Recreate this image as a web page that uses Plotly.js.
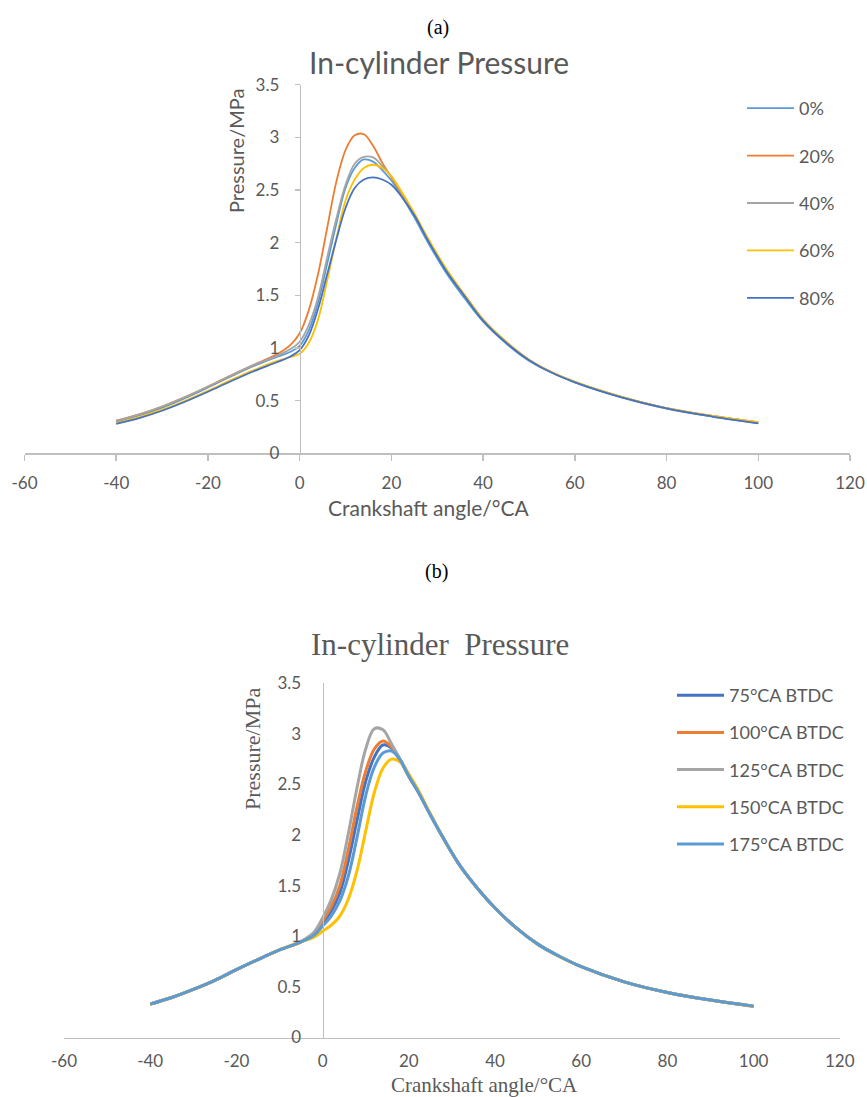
<!DOCTYPE html>
<html>
<head>
<meta charset="utf-8">
<script src="https://cdn.plot.ly/plotly-3.0.1.min.js"></script>
<style>html,body{margin:0;padding:0;background:#fff;}#chart{width:867px;height:1097px;}</style>
</head>
<body>
<div id="chart"></div>
<script>
// ---------- Data ----------
const crankAngle = [-40,-35,-30,-25,-20,-15,-10,-5,-2,0,2,4,6,8,10,12,14,16,18,20,22,25,28,32,36,40,45,50,55,60,70,80,90,100];

// (a) series
const namesA = ['0%','20%','40%','60%','80%'];
const pA_0  = [0.30,0.36,0.435,0.525,0.625,0.73,0.83,0.915,0.965,1.02,1.17,1.43,1.80,2.18,2.52,2.71,2.79,2.77,2.69,2.59,2.46,2.24,2.00,1.71,1.47,1.25,1.045,0.88,0.765,0.675,0.535,0.425,0.35,0.288];
const pA_20 = [0.31,0.37,0.445,0.535,0.635,0.74,0.84,0.94,1.03,1.14,1.36,1.70,2.14,2.58,2.88,3.02,3.03,2.92,2.76,2.62,2.48,2.27,2.03,1.74,1.50,1.27,1.06,0.89,0.77,0.68,0.54,0.43,0.355,0.295];
const pA_40 = [0.31,0.37,0.445,0.535,0.635,0.74,0.84,0.925,0.99,1.06,1.22,1.48,1.86,2.23,2.55,2.75,2.815,2.81,2.73,2.63,2.49,2.27,2.03,1.74,1.50,1.27,1.06,0.89,0.77,0.68,0.54,0.43,0.355,0.295];
const pA_60 = [0.288,0.345,0.415,0.50,0.595,0.695,0.79,0.875,0.915,0.945,1.05,1.27,1.64,2.04,2.40,2.60,2.71,2.74,2.71,2.63,2.50,2.28,2.04,1.75,1.50,1.27,1.06,0.89,0.77,0.68,0.54,0.43,0.355,0.295];
const pA_80 = [0.28,0.335,0.405,0.49,0.585,0.685,0.78,0.865,0.92,0.98,1.12,1.37,1.70,2.03,2.33,2.52,2.60,2.62,2.60,2.55,2.45,2.26,2.02,1.73,1.49,1.26,1.05,0.885,0.765,0.675,0.535,0.428,0.35,0.285];
const colorsA = ['#5B9BD5','#ED7D31','#A5A5A5','#FFC000','#4472C4'];

// (b) series
const namesB = ['75°CA BTDC','100°CA BTDC','125°CA BTDC','150°CA BTDC','175°CA BTDC'];
const pB_75  = [0.33,0.395,0.475,0.565,0.67,0.77,0.865,0.945,1.02,1.13,1.25,1.43,1.75,2.15,2.53,2.77,2.89,2.86,2.74,2.58,2.44,2.20,1.97,1.69,1.47,1.28,1.08,0.92,0.80,0.70,0.55,0.445,0.37,0.31];
const pB_100 = [0.33,0.395,0.475,0.565,0.67,0.77,0.865,0.945,1.03,1.15,1.29,1.50,1.86,2.28,2.63,2.85,2.93,2.87,2.74,2.58,2.44,2.20,1.97,1.69,1.47,1.28,1.08,0.92,0.80,0.70,0.55,0.445,0.37,0.305];
const pB_125 = [0.33,0.395,0.475,0.565,0.67,0.77,0.865,0.95,1.04,1.18,1.36,1.62,2.02,2.47,2.85,3.05,3.04,2.90,2.75,2.60,2.45,2.20,1.97,1.69,1.47,1.28,1.08,0.92,0.80,0.70,0.55,0.445,0.37,0.31];
const pB_150 = [0.33,0.395,0.475,0.565,0.67,0.77,0.865,0.945,0.99,1.05,1.11,1.20,1.37,1.65,2.04,2.42,2.66,2.75,2.72,2.60,2.46,2.21,1.97,1.69,1.47,1.28,1.08,0.92,0.80,0.70,0.55,0.445,0.37,0.31];
const pB_175 = [0.33,0.395,0.475,0.565,0.67,0.77,0.865,0.945,1.01,1.10,1.20,1.35,1.60,1.98,2.39,2.67,2.81,2.83,2.74,2.58,2.44,2.20,1.97,1.69,1.47,1.28,1.08,0.92,0.80,0.70,0.55,0.445,0.37,0.31];
const colorsB = ['#4472C4','#ED7D31','#A5A5A5','#FFC000','#5B9BD5'];

const xTicks = [-60,-40,-20,0,20,40,60,80,100,120];
const xTickLabels = ['-60','-40','-20','0','20','40','60','80','100','120'];
const yTicks = [0,0.5,1,1.5,2,2.5,3,3.5];
const yTickLabels = ['0','0.5','1','1.5','2','2.5','3','3.5'];

// ---------- Layout helpers ----------
const W = 867, H = 1097;
const px = v => v / W;
const py = v => (H - v) / H;

const domA = {x0: 24.5, x1: 850, yTop: 84.7, yBot: 453.4};
const domB = {x0: 64, x1: 839.8, yTop: 683.2, yBot: 1037.5};
const xRange = [-60, 120];
const zeroFrac = (0 - xRange[0]) / (xRange[1] - xRange[0]);

const sansFont = 'Lato, "Open Sans", sans-serif';
const serifFont = '"Liberation Serif", "Times New Roman", serif';
const grey = '#595959';
const axisGrey = '#BFBFBF';

const seriesA = [pA_0, pA_20, pA_40, pA_60, pA_80];
const seriesB = [pB_75, pB_100, pB_125, pB_150, pB_175];

const traces = [];
seriesA.forEach((ys, i) => traces.push({
  x: crankAngle, y: ys, type: 'scatter', mode: 'lines', name: namesA[i],
  line: {color: colorsA[i], width: 1.8, shape: 'spline', smoothing: 1},
  xaxis: 'x', yaxis: 'y', legend: 'legend', legendgroup: 'a' + i
}));
seriesB.forEach((ys, i) => traces.push({
  x: crankAngle, y: ys, type: 'scatter', mode: 'lines', name: namesB[i],
  line: {color: colorsB[i], width: 3, shape: 'spline', smoothing: 1},
  xaxis: 'x2', yaxis: 'y2', legend: 'legend2', legendgroup: 'b' + i
}));

const xDomA = [px(domA.x0), px(domA.x1)];
const xDomB = [px(domB.x0), px(domB.x1)];

const layout = {
  width: W, height: H,
  margin: {l: 0, r: 0, t: 0, b: 0},
  paper_bgcolor: '#fff', plot_bgcolor: '#fff',
  showlegend: true,
  xaxis: {
    domain: xDomA, anchor: 'y', range: xRange, tickvals: xTicks, ticktext: xTickLabels,
    showgrid: false, zeroline: false, showline: true, linecolor: axisGrey, linewidth: 1.5,
    ticks: 'outside', ticklen: 6, tickcolor: axisGrey, tickwidth: 1.5,
    tickfont: {family: sansFont, size: 17, color: grey}, ticklabelstandoff: 8
  },
  yaxis: {
    domain: [py(domA.yBot), py(domA.yTop)], anchor: 'free',
    position: xDomA[0] + (xDomA[1] - xDomA[0]) * zeroFrac,
    range: [0, 3.5], tickvals: yTicks, ticktext: yTickLabels,
    showgrid: false, zeroline: false, showline: true, linecolor: axisGrey, linewidth: 1.5,
    ticks: 'outside', ticklen: 5, tickcolor: axisGrey, tickwidth: 1.5,
    tickfont: {family: sansFont, size: 17, color: grey}, ticklabelstandoff: 12
  },
  xaxis2: {
    domain: xDomB, anchor: 'y2', range: xRange, tickvals: xTicks, ticktext: xTickLabels,
    showgrid: false, zeroline: false, showline: true, linecolor: axisGrey, linewidth: 1.5,
    ticks: '',
    tickfont: {family: sansFont, size: 17, color: grey}, ticklabelstandoff: 8
  },
  yaxis2: {
    domain: [py(domB.yBot), py(domB.yTop)], anchor: 'free',
    position: xDomB[0] + (xDomB[1] - xDomB[0]) * zeroFrac,
    range: [0, 3.5], tickvals: yTicks, ticktext: yTickLabels,
    showgrid: false, zeroline: false, showline: true, linecolor: axisGrey, linewidth: 1.5,
    ticks: '',
    tickfont: {family: sansFont, size: 17, color: grey}, ticklabelstandoff: 18
  },
  legend: {
    x: px(742), y: py(90), xanchor: 'left', yanchor: 'top',
    font: {family: sansFont, size: 18, color: grey},
    bgcolor: 'rgba(0,0,0,0)', tracegroupgap: 21, itemwidth: 47
  },
  legend2: {
    x: px(672), y: py(677), xanchor: 'left', yanchor: 'top',
    font: {family: sansFont, size: 18, color: grey},
    bgcolor: 'rgba(0,0,0,0)', tracegroupgap: 10.8, itemwidth: 47
  },
  annotations: [
    {text: '(a)', x: px(438), y: py(27), xref: 'paper', yref: 'paper', showarrow: false,
     xanchor: 'center', yanchor: 'middle', font: {family: serifFont, size: 20, color: '#000'}},
    {text: 'In-cylinder Pressure', x: px(439), y: py(62), xref: 'paper', yref: 'paper', showarrow: false,
     xanchor: 'center', yanchor: 'middle', font: {family: sansFont, size: 30, color: grey}},
    {text: 'Pressure/MPa', x: px(236), y: py(151), xref: 'paper', yref: 'paper', showarrow: false,
     textangle: -90, xanchor: 'center', yanchor: 'middle', font: {family: sansFont, size: 20, color: grey}},
    {text: 'Crankshaft angle/°CA', x: px(428), y: py(508), xref: 'paper', yref: 'paper', showarrow: false,
     xanchor: 'center', yanchor: 'middle', font: {family: sansFont, size: 21, color: grey}},
    {text: '(b)', x: px(436), y: py(571), xref: 'paper', yref: 'paper', showarrow: false,
     xanchor: 'center', yanchor: 'middle', font: {family: serifFont, size: 20, color: '#000'}},
    {text: 'In-cylinder  Pressure', x: px(440), y: py(645), xref: 'paper', yref: 'paper', showarrow: false,
     xanchor: 'center', yanchor: 'middle', font: {family: serifFont, size: 31, color: grey}},
    {text: 'Pressure/MPa', x: px(252), y: py(749), xref: 'paper', yref: 'paper', showarrow: false,
     textangle: -90, xanchor: 'center', yanchor: 'middle', font: {family: serifFont, size: 22, color: grey}},
    {text: 'Crankshaft angle/°CA', x: px(484), y: py(1085), xref: 'paper', yref: 'paper', showarrow: false,
     xanchor: 'center', yanchor: 'middle', font: {family: serifFont, size: 21, color: grey}}
  ]
};

Plotly.newPlot('chart', traces, layout, {displayModeBar: false, staticPlot: true});
</script>
</body>
</html>
